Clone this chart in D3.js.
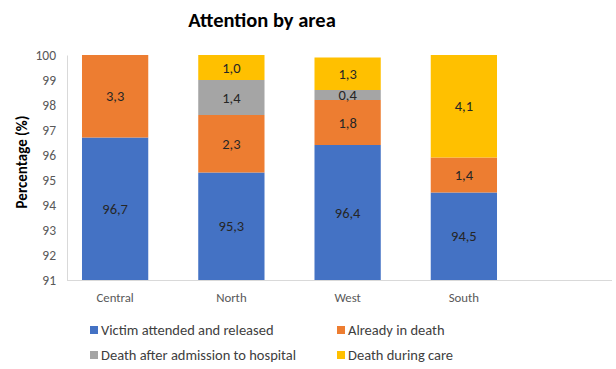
<!DOCTYPE html>
<html><head><meta charset="utf-8">
<script src="https://cdn.jsdelivr.net/npm/d3@7"></script>
<style>body{margin:0;background:#fff}svg{display:block}</style>
</head><body>
<script>
const categories = ["Central", "North", "West", "South"];
const seriesNames = ["Victim attended and released", "Already in death", "Death after admission to hospital", "Death during care"];
const victimReleased = [96.7, 95.3, 96.4, 94.5];
const alreadyDeath = [3.3, 2.3, 1.8, 1.4];
const deathHospital = [0, 1.4, 0.4, 0];
const deathCare = [0, 1.0, 1.3, 4.1];
const yTicks = [91, 92, 93, 94, 95, 96, 97, 98, 99, 100];
const colors = ["#4472C4", "#ED7D31", "#A5A5A5", "#FFC000"];

const W = 616, H = 369;
const svg = d3.select("body").append("svg").attr("width", W).attr("height", H);
const font = "Carlito, 'Open Sans', 'Liberation Sans', sans-serif";

const x = d3.scaleBand().domain(categories).range([57, 522]).paddingInner(0.43).paddingOuter(0.215);
const y = d3.scaleLinear().domain([91, 100]).range([280, 55]);

const series = [victimReleased, alreadyDeath, deathHospital, deathCare];
const rows = categories.map((c, i) => {
  const o = {cat: c};
  seriesNames.forEach((s, j) => o[s] = series[j][i]);
  return o;
});
const stack = d3.stack().keys(seriesNames)(rows);

// title
svg.append("text").attr("x", 262).attr("y", 27).attr("text-anchor", "middle")
  .attr("font-family", font).attr("font-weight", "bold").attr("font-size", 20.5).attr("fill", "#000")
  .text("Attention by area");

// y axis
const yAxis = svg.append("g").attr("transform", "translate(67,0)")
  .call(d3.axisLeft(y).tickValues(yTicks).tickSize(0).tickPadding(11).tickFormat(d3.format("d")));
yAxis.select(".domain").attr("stroke", "#d9d9d9");
yAxis.selectAll("text").attr("font-family", font).attr("font-size", 13.5).attr("fill", "#595959");

// x axis line
svg.append("line").attr("x1", 67).attr("x2", 612).attr("y1", 280.5).attr("y2", 280.5).attr("stroke", "#d9d9d9");

// bars
stack.forEach((layer, j) => {
  const g = svg.append("g");
  layer.forEach((d, i) => {
    const v = d[1] - d[0];
    if (v <= 0) return;
    const y0 = y(Math.max(d[0], 91)), y1 = y(d[1]);
    g.append("rect").attr("x", x(categories[i])).attr("width", x.bandwidth())
      .attr("y", y1).attr("height", y0 - y1).attr("fill", colors[j]);
    const my = j === 0 ? y((91 + d[1]) / 2) : (y0 + y1) / 2;
    g.append("text").attr("x", x(categories[i]) + x.bandwidth() / 2).attr("y", my)
      .attr("dy", "0.35em").attr("text-anchor", "middle")
      .attr("font-family", font).attr("font-size", 14.5).attr("fill", "#262626")
      .text(d3.format(".1f")(v).replace(".", ","));
  });
});

// category labels
categories.forEach(c => {
  svg.append("text").attr("x", x(c) + x.bandwidth() / 2).attr("y", 302).attr("text-anchor", "middle")
    .attr("font-family", font).attr("font-size", 12.8).attr("fill", "#595959").text(c);
});

// y title
svg.append("text").attr("transform", "translate(27,162) rotate(-90)").attr("text-anchor", "middle")
  .attr("font-family", font).attr("font-weight", "bold").attr("font-size", 15).attr("fill", "#000")
  .text("Percentage (%)");

// legend
const legPos = [[90, 330], [337, 330], [90, 355], [337, 355]];
seriesNames.forEach((s, j) => {
  const [lx, ly] = legPos[j];
  svg.append("rect").attr("x", lx).attr("y", ly - 4).attr("width", 8).attr("height", 8).attr("fill", colors[j]);
  svg.append("text").attr("x", lx + 11).attr("y", ly).attr("dy", "0.35em")
    .attr("font-family", font).attr("font-size", 14.5).attr("fill", "#404040").text(s);
});
</script>
</body></html>
